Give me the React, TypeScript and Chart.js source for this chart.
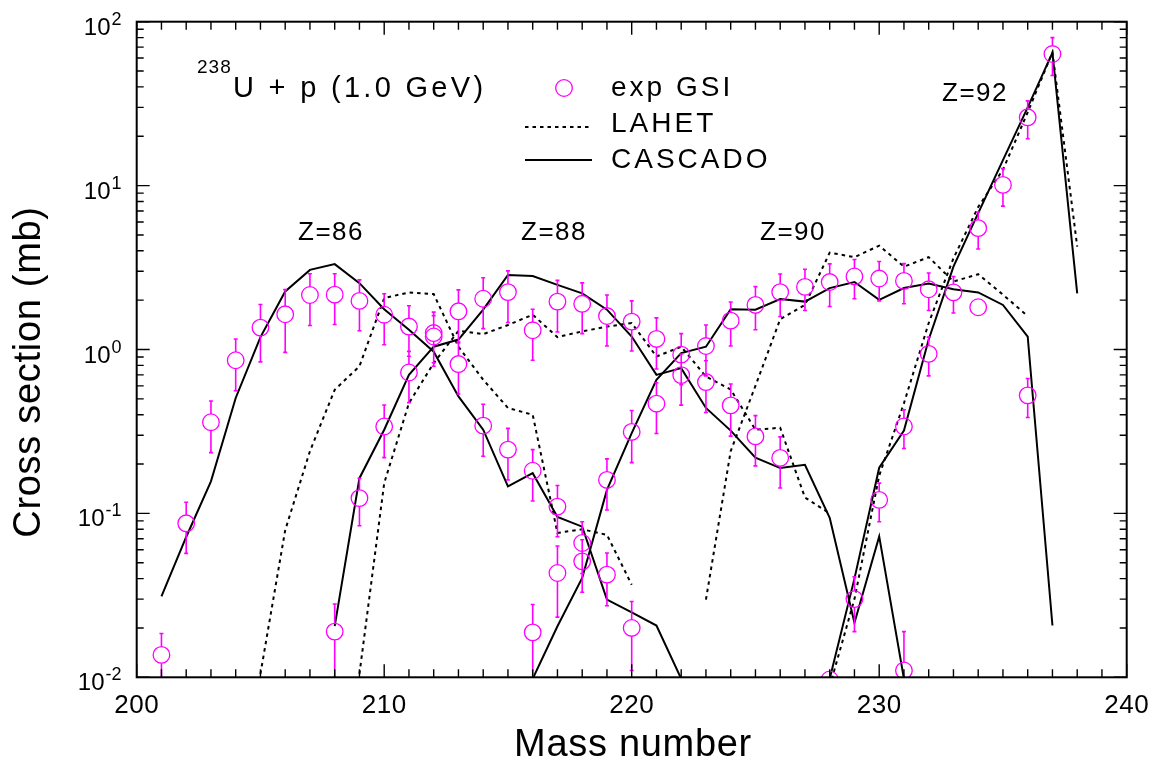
import React, { useEffect, useRef } from "react";
import { Chart, registerables } from "chart.js";

Chart.register(...registerables);

const FONT = '"Liberation Sans", Arial, Helvetica, sans-serif';
const MAGENTA = "#ff00ff";

// Axes
const X_MIN = 200;
const X_MAX = 240;
const Y_MIN = 0.01;
const Y_MAX = 100;
const X_TICK_LABELS = [200, 210, 220, 230, 240];
const Y_TICK_EXPONENTS = [-2, -1, 0, 1, 2];

// Experimental data (GSI)
const EXP_A = [
  201, 202, 203, 204, 205, 206, 207, 208, 208, 209, 209, 210, 210, 211, 211, 212, 212,
  213, 213, 214, 214, 215, 215, 216, 216, 216, 217, 217, 217, 218, 218, 218, 219, 219,
  219, 220, 220, 220, 221, 221, 222, 222, 223, 223, 224, 224, 225, 225, 226, 226, 227,
  228, 228, 229, 229, 230, 230, 231, 231, 231, 232, 232, 233, 234, 234, 235, 236, 236, 237,
];
const EXP_SIGMA = [
  0.0137, 0.087, 0.36, 0.86, 1.36, 1.64, 2.15, 2.16, 0.019, 1.98, 0.124, 1.63, 0.339, 1.38, 0.724, 1.26, 1.2,
  1.71, 0.815, 2.04, 0.343, 2.24, 0.245, 1.31, 0.182, 0.0188, 1.96, 0.11, 0.0433, 1.9, 0.066, 0.051, 1.6, 0.16,
  0.0423, 1.48, 0.314, 0.02, 1.16, 0.467, 0.93, 0.698, 1.05, 0.633, 1.5, 0.456, 1.87, 0.295, 2.24, 0.218, 2.41,
  2.58, 0.0097, 2.79, 0.03, 2.71, 0.121, 2.62, 0.339, 0.011, 2.33, 0.94, 2.23, 1.81, 5.5, 10.1, 26.1, 0.525, 63.5,
];
const EXP_ERR = [
  0.0048, 0.03, 0.125, 0.3, 0.52, 0.68, 0.75, 0.74, 0.009, 0.68, 0.04, 0.56, 0.12, 0.47, 0.25, 0.43, 0.41,
  0.6, 0.28, 0.7, 0.12, 0.78, 0.085, 0.45, 0.063, 0.009, 0.68, 0.038, 0.02, 0.65, 0.023, 0.018, 0.55, 0.055,
  0.015, 0.5, 0.11, 0.009, 0.4, 0.16, 0.32, 0.24, 0.36, 0.22, 0.45, 0.16, 0.55, 0.1, 0.65, 0.075, 0.68,
  0.75, 0, 0.75, 0.011, 0.73, 0.032, 0.72, 0.09, 0.008, 0.6, 0.25, 0.56, 0, 1.4, 2.6, 6.8, 0.14, 16.5,
];

// LAHET (dotted)
const LAHET_Z86_A = [205, 206, 207, 208, 209, 210, 211, 212, 213, 214, 215, 216, 217, 218, 219, 220];
const LAHET_Z86 = [0.0105, 0.079, 0.24, 0.568, 0.79, 2.06, 2.23, 2.18, 1.04, 0.654, 0.44, 0.4, 0.076, 0.08, 0.074, 0.0367];
const LAHET_Z88_A = [209, 210, 211, 212, 213, 214, 215, 216, 217, 218, 219, 220, 221, 222, 223, 224, 225, 226, 227, 228];
const LAHET_Z88 = [0.0105, 0.153, 0.471, 0.826, 1.3, 1.24, 1.41, 1.63, 1.19, 1.29, 1.38, 1.45, 0.906, 1.04, 0.684, 0.57, 0.324, 0.333, 0.125, 0.1];
const LAHET_Z90_A = [223, 224, 225, 226, 227, 228, 229, 230, 231, 232, 233, 234, 235, 236];
const LAHET_Z90 = [0.0298, 0.24, 0.6, 1.53, 1.87, 3.9, 3.66, 4.3, 3.2, 3.66, 2.6, 2.88, 2.16, 1.6];
const LAHET_Z92_A = [228, 229, 230, 231, 232, 233, 234, 235, 236, 237, 238];
const LAHET_Z92 = [0.0088, 0.03, 0.17, 0.47, 1.45, 3.6, 7.4, 12.5, 28, 65, 4.25];

// CASCADO (solid)
const CASCADO_Z86_A = [201, 202, 203, 204, 205, 206, 207, 208, 209, 210, 211, 212, 213, 214, 215, 216, 217, 218, 219, 220, 221, 222];
const CASCADO_Z86 = [0.0312, 0.0718, 0.157, 0.506, 1.19, 2.26, 3.06, 3.32, 2.54, 1.76, 1.32, 0.97, 0.517, 0.324, 0.146, 0.176, 0.095, 0.083, 0.0298, 0.0249, 0.0207, 0.0098];
const CASCADO_Z88_A = [208, 209, 210, 211, 212, 213, 214, 215, 216, 217, 218, 219, 220, 221, 222, 223, 224, 225, 226, 227, 228, 229, 230, 231];
const CASCADO_Z88 = [0.0205, 0.164, 0.324, 0.7, 1.04, 1.15, 1.75, 2.85, 2.81, 2.48, 2.2, 1.75, 1.2, 0.7, 0.77, 0.44, 0.32, 0.219, 0.189, 0.198, 0.094, 0.0215, 0.0724, 0.0098];
const CASCADO_Z90_A = [216, 217, 218, 219, 220, 221, 222, 223, 224, 225, 226, 227, 228, 229, 230, 231, 232, 233, 234, 235, 236, 237];
const CASCADO_Z90 = [0.0098, 0.0205, 0.0404, 0.139, 0.309, 0.654, 0.95, 1.04, 1.76, 1.75, 2.03, 1.96, 2.37, 2.58, 2.01, 2.37, 2.53, 2.33, 2.23, 1.87, 1.2, 0.0207];
const CASCADO_Z92_A = [228, 229, 230, 231, 232, 233, 234, 235, 236, 237, 238];
const CASCADO_Z92 = [0.0098, 0.04, 0.19, 0.32, 1.15, 3.2, 6.8, 14.3, 30, 64.7, 2.2];

// Annotations
const Z_LABELS = [
  { text: "Z=86", x: 298, y: 240 },
  { text: "Z=88", x: 521, y: 240 },
  { text: "Z=90", x: 760, y: 240 },
  { text: "Z=92", x: 942, y: 101 },
];
const LEGEND_LABELS = ["exp GSI", "LAHET", "CASCADO"];

const pts = (a: number[], v: number[]) => a.map((x, i) => ({ x, y: v[i] }));

function drawText(ctx: CanvasRenderingContext2D, s: string, x: number, y: number, size: number, align: CanvasTextAlign = "left", ls = 0) {
  ctx.font = `${size}px ${FONT}`;
  (ctx as any).letterSpacing = `${ls}px`;
  ctx.textAlign = align;
  ctx.textBaseline = "alphabetic";
  ctx.fillText(s, x, y);
  (ctx as any).letterSpacing = "0px";
}

const decorPlugin = {
  id: "decor",
  afterDatasetsDraw(chart: any) {
    const ctx: CanvasRenderingContext2D = chart.ctx;
    const area = chart.chartArea;
    const xs = chart.scales.x;
    const ys = chart.scales.y;
    const r = 8.3;
    ctx.save();
    ctx.beginPath();
    ctx.rect(area.left, area.top, area.right - area.left, area.bottom - area.top);
    ctx.clip();
    ctx.strokeStyle = MAGENTA;
    ctx.lineWidth = 1.6;
    ctx.beginPath();
    EXP_A.forEach((a, i) => {
      const v = EXP_SIGMA[i];
      const e = EXP_ERR[i];
      if (!e) return;
      const px = xs.getPixelForValue(a);
      const pc = ys.getPixelForValue(v);
      const pHi = ys.getPixelForValue(v + e);
      const lo = v - e;
      const pLo = lo > 0 ? ys.getPixelForValue(lo) : area.bottom + 20;
      if (pc - pHi > r) {
        ctx.moveTo(px, pc - r);
        ctx.lineTo(px, pHi);
        ctx.moveTo(px - 2, pHi);
        ctx.lineTo(px + 2, pHi);
      }
      if (pLo - pc > r) {
        ctx.moveTo(px, pc + r);
        ctx.lineTo(px, pLo);
        ctx.moveTo(px - 2, pLo);
        ctx.lineTo(px + 2, pLo);
      }
    });
    ctx.stroke();
    ctx.restore();
  },
  afterDraw(chart: any) {
    const ctx: CanvasRenderingContext2D = chart.ctx;
    const area = chart.chartArea;
    const xs = chart.scales.x;
    const ys = chart.scales.y;
    ctx.save();
    ctx.strokeStyle = "#000";
    ctx.fillStyle = "#000";
    // ticks
    ctx.lineWidth = 1.4;
    ctx.beginPath();
    for (let a = X_MIN; a <= X_MAX; a++) {
      const px = xs.getPixelForValue(a);
      const len = a % 10 === 0 ? 13 : 8;
      ctx.moveTo(px, area.bottom);
      ctx.lineTo(px, area.bottom - len);
      ctx.moveTo(px, area.top);
      ctx.lineTo(px, area.top + len);
    }
    for (const ex of Y_TICK_EXPONENTS) {
      for (let m = 1; m <= 9; m++) {
        if (ex === 2 && m > 1) break;
        const py = ys.getPixelForValue(m * Math.pow(10, ex));
        const len = m === 1 ? 13 : 7;
        ctx.moveTo(area.left, py);
        ctx.lineTo(area.left + len, py);
        ctx.moveTo(area.right, py);
        ctx.lineTo(area.right - len, py);
      }
    }
    ctx.stroke();
    // frame
    ctx.lineWidth = 2;
    ctx.strokeRect(area.left, area.top, area.right - area.left, area.bottom - area.top);

    // x tick labels
    X_TICK_LABELS.forEach((v) => {
      drawText(ctx, String(v), xs.getPixelForValue(v), 713, 26, "center", 0.5);
    });
    // y tick labels 10^n
    Y_TICK_EXPONENTS.forEach((ex) => {
      const py = ys.getPixelForValue(Math.pow(10, ex));
      const sup = String(ex);
      ctx.font = `18px ${FONT}`;
      const supW = ctx.measureText(sup).width;
      const right = 121.5;
      drawText(ctx, sup, right - supW, py + 3, 18, "left");
      drawText(ctx, "10", right - supW - 1, py + 13, 24, "right");
    });

    // axis titles
    drawText(ctx, "Mass number", 633, 756, 38, "center", 0.7);
    ctx.save();
    ctx.translate(40, 372);
    ctx.rotate(-Math.PI / 2);
    drawText(ctx, "Cross section (mb)", 0, 0, 38, "center", 0.7);
    ctx.restore();

    // title
    drawText(ctx, "238", 197, 73, 19, "left", 1);
    drawText(ctx, "U + p (1.0 GeV)", 233, 97, 29, "left", 3.3);

    // Z labels
    Z_LABELS.forEach((z) => drawText(ctx, z.text, z.x, z.y, 26, "left", 1.5));

    // legend
    ctx.strokeStyle = MAGENTA;
    ctx.lineWidth = 1.3;
    ctx.beginPath();
    ctx.arc(564, 88, 8.3, 0, Math.PI * 2);
    ctx.stroke();
    ctx.strokeStyle = "#000";
    ctx.lineWidth = 2;
    ctx.setLineDash([3.5, 4]);
    ctx.beginPath();
    ctx.moveTo(525, 127);
    ctx.lineTo(592, 127);
    ctx.stroke();
    ctx.setLineDash([]);
    ctx.beginPath();
    ctx.moveTo(525, 160);
    ctx.lineTo(592, 160);
    ctx.stroke();
    drawText(ctx, LEGEND_LABELS[0], 611, 96, 28, "left", 3);
    drawText(ctx, LEGEND_LABELS[1], 611, 132, 28, "left", 3);
    drawText(ctx, LEGEND_LABELS[2], 611, 168, 28, "left", 3);
    ctx.restore();
  },
};

const lineDs = (label: string, a: number[], v: number[], dotted: boolean) => ({
  label,
  data: pts(a, v),
  borderColor: "#000",
  backgroundColor: "#000",
  borderWidth: 2,
  borderDash: dotted ? [3.5, 4] : [],
  pointRadius: 0,
  fill: false,
  tension: 0,
  clip: 0,
});

export default function App() {
  const ref = useRef<HTMLCanvasElement>(null);
  useEffect(() => {
    const canvas = ref.current;
    if (!canvas) return;
    const chart = new Chart(canvas, {
      type: "line",
      data: {
        datasets: [
          {
            label: "exp GSI",
            data: pts(EXP_A, EXP_SIGMA),
            showLine: false,
            pointRadius: 8.3,
            pointBorderWidth: 1.3,
            pointBorderColor: MAGENTA,
            pointBackgroundColor: "rgba(0,0,0,0)",
            borderColor: MAGENTA,
            backgroundColor: "rgba(0,0,0,0)",
            clip: 0,
          } as any,
          lineDs("LAHET Z=86", LAHET_Z86_A, LAHET_Z86, true),
          lineDs("LAHET Z=88", LAHET_Z88_A, LAHET_Z88, true),
          lineDs("LAHET Z=90", LAHET_Z90_A, LAHET_Z90, true),
          lineDs("LAHET Z=92", LAHET_Z92_A, LAHET_Z92, true),
          lineDs("CASCADO Z=86", CASCADO_Z86_A, CASCADO_Z86, false),
          lineDs("CASCADO Z=88", CASCADO_Z88_A, CASCADO_Z88, false),
          lineDs("CASCADO Z=90", CASCADO_Z90_A, CASCADO_Z90, false),
          lineDs("CASCADO Z=92", CASCADO_Z92_A, CASCADO_Z92, false),
        ],
      },
      options: {
        responsive: false,
        animation: false,
        events: [],
        layout: { padding: { left: 136.7, top: 21.7, right: 1158 - 1126.7, bottom: 765 - 677.3 } },
        scales: {
          x: { type: "linear", min: X_MIN, max: X_MAX, display: false },
          y: { type: "logarithmic", min: Y_MIN, max: Y_MAX, display: false },
        },
        plugins: { legend: { display: false }, tooltip: { enabled: false } },
      },
      plugins: [decorPlugin],
    });
    return () => chart.destroy();
  }, []);
  return (
    <div style={{ position: "fixed", left: 0, top: 0, width: 1158, height: 765, background: "#fff" }}>
      <canvas ref={ref} width={1158} height={765} style={{ display: "block" }} />
    </div>
  );
}
